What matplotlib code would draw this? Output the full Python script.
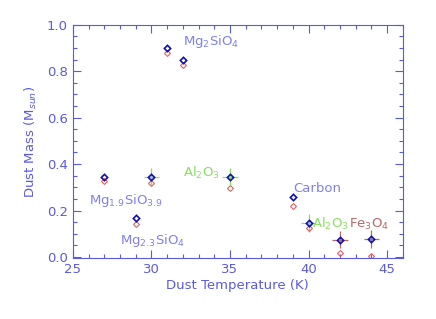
import numpy as np
import matplotlib
matplotlib.use("Agg")
import matplotlib.pyplot as plt
from matplotlib.ticker import MultipleLocator

# dust model fits: temperature (K), mass (Msun) for two fits
temp = [31, 32, 27, 30, 29, 35, 39, 40, 42, 44]
mass_blue = [0.90, 0.85, 0.345, 0.345, 0.166, 0.345, 0.257, 0.146, 0.074, 0.077]
mass_red = [0.877, 0.827, 0.328, 0.32, 0.142, 0.297, 0.22, 0.123, 0.017, 0.003]

# error crosses (green: Al2O3, brown: Fe3O4)
err_green_t = [30, 35, 40]
err_green_m = [0.345, 0.345, 0.146]
err_brown_t = [42, 44]
err_brown_m = [0.074, 0.077]
err_t = 0.5
err_m = 0.037

axcol = "#5a5ae0"
labcol = "#8080f0"
green = "#88e060"
brown = "#b86868"

fig = plt.figure(figsize=(4.36, 3.19), dpi=100)
ax = fig.add_axes([0.167, 0.191, 0.757, 0.731])

ax.errorbar(err_green_t, err_green_m, xerr=err_t, yerr=err_m, fmt="none",
            ecolor=green, elinewidth=0.9, capsize=0)
ax.errorbar(err_brown_t, err_brown_m, xerr=err_t, yerr=err_m, fmt="none",
            ecolor=brown, elinewidth=0.9, capsize=0)
ax.plot(temp, mass_red, ls="none", marker="D", ms=3, mfc="none",
        mec="#e06060", mew=0.8)
ax.plot(temp, mass_blue, ls="none", marker="D", ms=3.2, mfc="none",
        mec="#1010b0", mew=1.2)

fs = 9.5
sub = dict(color=labcol, fontsize=fs)
ax.text(32.0, 0.915, r"Mg$_2$SiO$_4$", **sub)
ax.text(26.0, 0.23, r"Mg$_{1.9}$SiO$_{3.9}$", **sub)
ax.text(28.0, 0.055, r"Mg$_{2.3}$SiO$_4$", **sub)
ax.text(32.0, 0.345, r"Al$_2$O$_3$", color=green, fontsize=fs)
ax.text(39.0, 0.28, "Carbon", **sub)
ax.text(40.25, 0.125, r"Al$_2$O$_3$", color=green, fontsize=fs)
ax.text(42.6, 0.125, r"Fe$_3$O$_4$", color=brown, fontsize=fs)

ax.set_xlim(25, 46)
ax.set_ylim(-0.005, 1.0)
ax.xaxis.set_major_locator(MultipleLocator(5))
ax.xaxis.set_minor_locator(MultipleLocator(1))
ax.yaxis.set_major_locator(MultipleLocator(0.2))
ax.yaxis.set_minor_locator(MultipleLocator(0.05))
ax.yaxis.set_major_formatter(matplotlib.ticker.FormatStrFormatter("%.1f"))

ax.tick_params(which="both", direction="in", top=True, right=True,
               color=axcol, labelcolor=axcol, labelsize=fs)
ax.tick_params(which="major", length=6, width=0.8)
ax.tick_params(which="minor", length=3, width=0.8)
for s in ax.spines.values():
    s.set_color(axcol)
    s.set_linewidth(0.8)

ax.set_xlabel("Dust Temperature (K)", color=axcol, fontsize=fs, labelpad=2)
ax.set_ylabel(r"Dust Mass (M$_{sun}$)", color=axcol, fontsize=fs, labelpad=6)

fig.savefig("out.png", dpi=100)
